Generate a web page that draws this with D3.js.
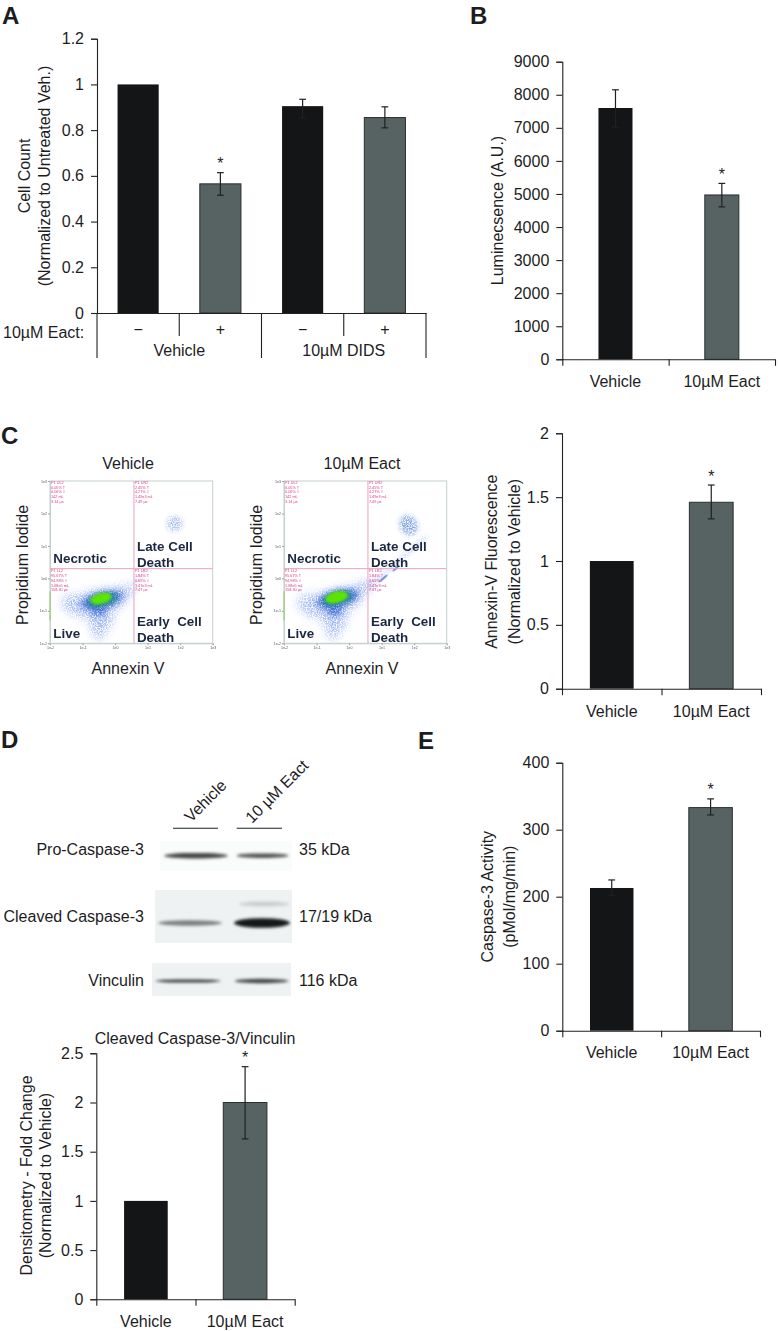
<!DOCTYPE html>
<html><head><meta charset="utf-8">
<script src="https://cdn.jsdelivr.net/npm/d3@7"></script>
<style>
html,body{margin:0;padding:0;background:#fff}
svg{display:block}
text{font-family:"Liberation Sans",Arial,sans-serif;fill:#1d1d1f}
</style></head><body><div id="c"></div>
<script>
// ---------- data ----------
const aGroups = ["Vehicle", "10µM DIDS"];
const aCategories = ["−", "+", "−", "+"];
const aValues = [1, 0.565, 0.905, 0.855];
const aErrHigh = [null, 0.614, 0.935, 0.902];
const aErrLow = [null, 0.515, 0.853, 0.81];
const aStars = [false, true, false, false];
const aTicks = [0, 0.2, 0.4, 0.6, 0.8, 1, 1.2];

const xCategories = ["Vehicle", "10µM Eact"];

const bValues = [7600, 4970];
const bErrHigh = [8150, 5320];
const bErrLow = [7020, 4610];
const bTicks = [0, 1000, 2000, 3000, 4000, 5000, 6000, 7000, 8000, 9000];

const cValues = [1, 1.46];
const cErrHigh = [null, 1.595];
const cErrLow = [null, 1.33];
const cTicks = [0, 0.5, 1, 1.5, 2];

const dValues = [1, 2];
const dErrHigh = [null, 2.364];
const dErrLow = [null, 1.63];
const dTicks = [0, 0.5, 1, 1.5, 2, 2.5];

const eValues = [213, 333];
const eErrHigh = [225, 346];
const eErrLow = [202, 322];
const eTicks = [0, 100, 200, 300, 400];

// flow cytometry density blobs: x decade, y decade, x radius, y radius, tilt
const flowDecades = [0, 1, 2, 3, 4, 5];
const flowDecadeLabels = ["1e-2", "1e-1", "1e0", "1e1", "1e2", "1e3"];
const flowCloudVehicle = [[1.45,1.25,0.95,0.4,-12],[1.55,0.85,0.4,0.5,0],[2.2,1.55,0.45,0.2,-25],[0.75,1.25,0.4,0.25,0],[1.5,0.45,0.2,0.35,0]];
const flowMidVehicle = [[1.6,1.33,0.68,0.24,-14],[1.5,1.05,0.24,0.22,0]];
const flowCoreVehicle = [[1.57,1.38,0.33,0.16,-14]];
const flowLateVehicle = [[3.83,3.69,0.25,0.24,-30]];
const flowStreakVehicle = [[2.55,1.8,3.3,2.55]];
const flowCloudEact = [[1.5,1.25,0.95,0.4,-14],[1.55,0.85,0.4,0.5,0],[2.3,1.65,0.5,0.2,-28],[0.8,1.25,0.4,0.25,0],[1.5,0.45,0.2,0.35,0]];
const flowMidEact = [[1.65,1.38,0.68,0.25,-14],[1.55,1.05,0.24,0.22,0]];
const flowCoreEact = [[1.62,1.42,0.35,0.17,-14]];
const flowLateEact = [[3.83,3.64,0.27,0.32,-30]];
const flowStreakEact = [[2.55,1.7,4.4,3.3]];
const flowDarkEact = [[3.43,2.3,0.12,0.04,-40],[3.05,2.0,0.18,0.04,-40]];
const quadStats = [
 ["P1 UL2","0.05% T","0.06% #","142 mL","3.14 µs"],
 ["P1 UR2","2.45% T","4.27% #","1.49e3 mL","7.49 µs"],
 ["P1 LL2","95.67% T","94.98% #","1.68e5 mL","158.30 µs"],
 ["P1 LR2","1.84% T","0.65% #","1.47e3 mL","7.47 µs"]];

// western blot rows and lanes
const blotRows = ["Pro-Caspase-3", "Cleaved Caspase-3", "Vinculin"];
const blotSizes = ["35 kDa", "17/19 kDa", "116 kDa"];
const blotLanes = ["Vehicle", "10 µM Eact"];
const blotDarkness = [[0.8, 0.75], [0.55, 1], [0.85, 0.8]];
const blotThickness = [[2.8, 2.3], [2.8, 4.8], [1.6, 2.2]];
const blotFaint = [[null, 0.2]];

// ---------- drawing ----------
const W = 778, H = 1331;
const svg = d3.select("#c").append("svg").attr("width", W).attr("height", H).attr("viewBox", [0,0,W,H]);
svg.append("rect").attr("width", W).attr("height", H).attr("fill", "#fff");
const defs = svg.append("defs");
const INK = "#1f2122", BLACK = "#131516", GREY = "#566362";

function blurF(id, s){ defs.append("filter").attr("id", id).attr("x","-40%").attr("y","-150%").attr("width","180%").attr("height","400%")
  .attr("color-interpolation-filters","sRGB").append("feGaussianBlur").attr("stdDeviation", s); }
blurF("b03",0.35); blurF("b1",1.3); blurF("b15",1.5); blurF("b2",2.4); blurF("b4",4);
function speck(id, s, slope, icpt, seed){
  const f = defs.append("filter").attr("id", id).attr("x","-30%").attr("y","-30%").attr("width","160%").attr("height","160%").attr("color-interpolation-filters","sRGB");
  f.append("feGaussianBlur").attr("in","SourceGraphic").attr("stdDeviation",s).attr("result","bl");
  f.append("feTurbulence").attr("type","fractalNoise").attr("baseFrequency",0.8).attr("numOctaves",2).attr("seed",seed).attr("result","t");
  f.append("feColorMatrix").attr("in","t").attr("type","matrix")
    .attr("values",`0 0 0 0 0  0 0 0 0 0  0 0 0 0 0  ${slope} 0 0 0 ${icpt}`).attr("result","n");
  f.append("feComposite").attr("in","bl").attr("in2","n").attr("operator","in").attr("result","c");
  f.append("feGaussianBlur").attr("in","c").attr("stdDeviation",0.55);
}
speck("sp1",5,3.2,-1,3); speck("sp2",3,3,-0.7,8); speck("sp3",2.5,3,-0.9,5);

function barChart(o){
  const g = svg.append("g");
  const y = d3.scaleLinear().domain(o.domain).range([o.y0, o.y1]);
  const n = o.values.length;
  const band = d3.scaleBand().domain(d3.range(n)).range([o.x0, o.x1]).paddingInner(o.pad).paddingOuter(o.pad/2);
  const xl = d3.scaleLinear().domain([0,n]).range([o.x0,o.x1]);
  g.selectAll("rect.bar").data(o.values).join("rect").attr("class","bar")
    .attr("x",(d,i)=>band(i)).attr("width",band.bandwidth())
    .attr("y",d=>y(d)).attr("height",d=>o.y0-y(d))
    .attr("fill",(d,i)=>o.colors[i]).attr("stroke",(d,i)=>o.colors[i]===GREY?"#2a2e2e":"none").attr("stroke-width",1);
  const ya = d3.axisLeft(y).tickValues(o.ticks).tickSize(6).tickPadding(7).tickFormat(d=>String(d));
  const ag = g.append("g").attr("transform",`translate(${o.x0},0)`).call(ya);
  ag.selectAll("line,path").attr("stroke",INK).attr("stroke-width",1.1);
  ag.selectAll("text").attr("font-size",16).attr("fill",INK);
  const xa = d3.axisBottom(xl).tickValues(d3.range(n+1)).tickSize(o.xTick===undefined?6.5:0).tickSizeOuter(0).tickFormat("");
  const xg = g.append("g").attr("transform",`translate(0,${o.y0})`).call(xa);
  xg.selectAll("line,path").attr("stroke",INK).attr("stroke-width",1.1);
  const cx = i=>band(i)+band.bandwidth()/2;
  const eb = g.append("g").attr("stroke",INK).attr("stroke-width",1.2);
  o.values.forEach((v,i)=>{
    if(o.hi[i]==null) return;
    eb.append("line").attr("x1",cx(i)).attr("x2",cx(i)).attr("y1",y(o.hi[i])).attr("y2",y(o.lo[i]));
    [o.hi[i],o.lo[i]].forEach(e=>eb.append("line").attr("x1",cx(i)-3.4).attr("x2",cx(i)+3.4).attr("y1",y(e)).attr("y2",y(e)));
  });
  o.stars.forEach((s,i)=>{ if(s) g.append("text").attr("x",cx(i)).attr("y",y(o.hi[i])-o.starGap).attr("text-anchor","middle").attr("font-size",16).text("*"); });
  o.title.forEach((t,i)=>g.append("text").attr("transform",`translate(${o.titleX[i]},${o.titleY}) rotate(-90)`)
     .attr("text-anchor","middle").attr("dy","0.36em").attr("font-size",16).text(t));
  if(o.cats) o.cats.forEach((t,i)=>g.append("text").attr("x",cx(i)).attr("y",o.catY).attr("dy","0.36em")
     .attr("text-anchor","middle").attr("font-size",16).text(t));
  return {g,y,band,xl,cx};
}
const two=[BLACK,GREY];

// Panel A
const A = barChart({x0:97,x1:426,y0:313,y1:38.7,domain:[0,1.2],pad:0.5,values:aValues,hi:aErrHigh,lo:aErrLow,stars:aStars,starGap:3.5,
  ticks:aTicks,colors:[BLACK,GREY,BLACK,GREY],xTick:0,title:["Cell Count","(Normalized to Untreated Veh.)"],titleX:[24,44.7],titleY:176});
[0,2,4].forEach(i=>A.g.append("line").attr("x1",A.xl(i)).attr("x2",A.xl(i)).attr("y1",313).attr("y2",358).attr("stroke",INK).attr("stroke-width",1.1));
[1,3].forEach(i=>A.g.append("line").attr("x1",A.xl(i)).attr("x2",A.xl(i)).attr("y1",313).attr("y2",336).attr("stroke",INK).attr("stroke-width",1.1));
A.g.selectAll("text.sign").data(aCategories).join("text").attr("class","sign").attr("x",(d,i)=>A.cx(i)).attr("y",329).attr("dy","0.36em").attr("text-anchor","middle").attr("font-size",16).text(d=>d);
aGroups.forEach((t,i)=>A.g.append("text").attr("x",A.xl(2*i+1)).attr("y",350.7).attr("dy","0.36em").attr("text-anchor","middle").attr("font-size",16).text(t));
A.g.append("text").attr("x",3).attr("y",332.5).attr("dy","0.36em").attr("font-size",16).text("10µM Eact:");

// Panel B
barChart({x0:562.3,x1:775,y0:359.3,y1:61.7,domain:[0,9000],pad:0.68,values:bValues,hi:bErrHigh,lo:bErrLow,stars:[false,true],starGap:3.5,
  ticks:bTicks,colors:two,title:["Luminecsence (A.U.)"],titleX:[497.7],titleY:210.5,cats:xCategories,catY:381.7});
// Panel C bars
barChart({x0:562,x1:761,y0:688.7,y1:433.3,domain:[0,2],pad:0.56,values:cValues,hi:cErrHigh,lo:cErrLow,stars:[false,true],starGap:3.5,
  ticks:cTicks,colors:two,title:["Annexin-V Fluorescence","(Normalized to Vehicle)"],titleX:[491.7,514],titleY:561.7,cats:xCategories,catY:711});
// Panel D bars
const D = barChart({x0:96.3,x1:294.7,y0:1299.3,y1:1053.3,domain:[0,2.5],pad:0.56,values:dValues,hi:dErrHigh,lo:dErrLow,stars:[false,true],starGap:3.5,
  ticks:dTicks,colors:two,title:["Densitometry - Fold Change","(Normalized to Vehicle)"],titleX:[26,45],titleY:1175.5,cats:xCategories,catY:1321.7});
D.g.append("text").attr("x",195).attr("y",1038.3).attr("dy","0.36em").attr("text-anchor","middle").attr("font-size",16).text("Cleaved Caspase-3/Vinculin");
// Panel E
barChart({x0:562.3,x1:760,y0:1030.7,y1:762.7,domain:[0,400],pad:0.56,values:eValues,hi:eErrHigh,lo:eErrLow,stars:[false,true],starGap:3.5,
  ticks:eTicks,colors:two,title:["Caspase-3 Activity","(pMol/mg/min)"],titleX:[487,509],titleY:896.7,cats:xCategories,catY:1052.7});

// Panel letters
[["A",2,24],["B",470,24],["C",1,444],["D",1,748],["E",418,749]].forEach(([t,x,y])=>
  svg.append("text").attr("x",x).attr("y",y).attr("font-size",24).attr("font-weight",700).attr("fill","#111").text(t));

// Flow plots
function flow(o){
  const g = svg.append("g");
  const x = d3.scaleLinear().domain([0,5]).range([o.x0,o.x0+162.7]);
  const y = d3.scaleLinear().domain([0,5]).range([643.3,481]);
  const clipId="clip"+o.x0;
  defs.append("clipPath").attr("id",clipId).append("rect").attr("x",o.x0).attr("y",481).attr("width",162.7).attr("height",162.3);
  const ell=(gg,arr,fill,op)=>gg.selectAll("ellipse").data(arr).join("ellipse")
    .attr("cx",0).attr("cy",0)
    .attr("rx",d=>x(d[2])-x(0)).attr("ry",d=>y(0)-y(d[3]))
    .attr("transform",d=>`translate(${x(d[0])},${y(d[1])}) rotate(${d[4]})`)
    .attr("fill",fill).attr("opacity",op);
  const plot=g.append("g").attr("clip-path",`url(#${clipId})`);
  ell(plot.append("g").attr("filter","url(#sp1)"),o.cloud,"#9db6f2",1);
  ell(plot.append("g").attr("filter","url(#sp2)"),o.mid,"#3f68d8",1);
  ell(plot.append("g").attr("filter","url(#b2)"),o.mid.slice(0,1).map(d=>[d[0],d[1],d[2]*0.72,d[3]*0.85,d[4]]),"#1f8a8a",0.8);
  ell(plot.append("g").attr("filter","url(#b1)"),o.core,"#5ae400",1);
  ell(plot.append("g").attr("filter","url(#sp3)"),o.late,o.lateColor,1);
  plot.append("g").attr("filter","url(#sp3)").selectAll("line").data(o.streak).join("line")
    .attr("x1",d=>x(d[0])).attr("y1",d=>y(d[1])).attr("x2",d=>x(d[2])).attr("y2",d=>y(d[3]))
    .attr("stroke",o.streakColor).attr("stroke-width",o.streakW);
  if(o.dark) ell(plot.append("g").attr("filter","url(#b03)"),o.dark,"#4a78d8",0.7);
  const fr=g.append("g").attr("filter","url(#b03)");
  fr.append("rect").attr("x",o.x0).attr("y",481).attr("width",162.7).attr("height",162.3).attr("fill","none").attr("stroke","#c4d0cc").attr("stroke-width",1);
  const ax=fr.append("g").attr("transform","translate(0,643.3)").call(d3.axisBottom(x).tickValues(flowDecades).tickSize(2).tickPadding(1).tickFormat((d,i)=>flowDecadeLabels[i]));
  const ay=fr.append("g").attr("transform",`translate(${o.x0},0)`).call(d3.axisLeft(y).tickValues(flowDecades).tickSize(2).tickPadding(1).tickFormat((d,i)=>flowDecadeLabels[i]));
  [ax,ay].forEach(a=>{a.select("path").attr("stroke","#c4d0cc");a.selectAll("line").attr("stroke","#9aa5a0");a.selectAll("text").attr("font-size",3.6).style("fill","#556");});
  fr.append("line").attr("x1",o.x0).attr("x2",o.x0).attr("y1",y(1.6)).attr("y2",y(0.7)).attr("stroke","#86d060").attr("stroke-width",1);
  const gate=g.append("g").attr("stroke","#eaa2bf").attr("stroke-width",1);
  gate.append("line").attr("x1",x(o.gx)).attr("x2",x(o.gx)).attr("y1",481).attr("y2",643.3);
  gate.append("line").attr("x1",o.x0).attr("x2",o.x0+162.7).attr("y1",y(o.gy)).attr("y2",y(o.gy));
  const st=g.append("g").attr("filter","url(#b03)");
  [[o.x0+1,484],[x(o.gx)+1,484],[o.x0+1,572.4],[x(o.gx)+1,572.4]].forEach((p,i)=>{
    o.stats[i].forEach((t,j)=>st.append("text").attr("x",p[0]).attr("y",p[1]+j*4.7).attr("font-size",3.8).style("fill","#d63a80").text(t));
  });
  const lab=g.append("g").attr("filter","url(#b03)");
  [["Necrotic",o.x0+3.3,558.3],["Late Cell",x(o.gx)+3,546],["Death",x(o.gx)+3,561.7],["Early  Cell",x(o.gx)+3,621],["Death",x(o.gx)+3,636.7],["Live",o.x0+3.3,633.3]]
   .forEach(([t,px,py])=>lab.append("text").attr("x",px).attr("y",py).attr("dy","0.36em").attr("font-size",13.4).attr("font-weight",700).style("fill","#1b2740").style("white-space","pre").text(t));
  g.append("text").attr("x",o.x0+78).attr("y",463.3).attr("dy","0.36em").attr("text-anchor","middle").attr("font-size",16).text(o.title);
  g.append("text").attr("x",o.x0+78).attr("y",668.3).attr("dy","0.36em").attr("text-anchor","middle").attr("font-size",16).text("Annexin V");
  g.append("text").attr("transform",`translate(${o.x0-27.3},565) rotate(-90)`).attr("dy","0.36em").attr("text-anchor","middle").attr("font-size",16).text("Propidium Iodide");
}
flow({x0:50,gx:2.58,gy:2.3,title:xCategories[0],cloud:flowCloudVehicle,mid:flowMidVehicle,core:flowCoreVehicle,late:flowLateVehicle,lateColor:"#a9c0ee",streak:flowStreakVehicle,streakColor:"#c5d4f4",streakW:2,stats:quadStats});
flow({x0:284,gx:2.58,gy:2.3,title:xCategories[1],cloud:flowCloudEact,mid:flowMidEact,core:flowCoreEact,late:flowLateEact,lateColor:"#7ea2e6",streak:flowStreakEact,streakColor:"#9db8ec",streakW:2.5,dark:flowDarkEact,stats:quadStats});

// Western blot
const blot=svg.append("g");
const rowY=d3.scaleOrdinal().domain(blotRows).range([855.7,923,981]);
const gx=d3.scaleSequential(d3.interpolateRgb("#fbfcfc","#151819")).domain([0,1]);
[[blotRows[0],"#fafbfb",160,292,841,871],[blotRows[1],"#eff2f2",155,292,890,943],[blotRows[2],"#eff2f2",152,291,963,996]].forEach(([r,c,a,b,t,u])=>
  blot.append("rect").attr("x",a).attr("y",t).attr("width",b-a).attr("height",u-t).attr("fill",c).attr("filter","url(#b03)"));
const laneHalf=[[32,26],[32,28],[33,27]];
const laneMid=[[196,262.5],[190,262],[188,261.5]];
blotRows.forEach((r,ri)=>blotLanes.forEach((l,li)=>{
  blot.append("ellipse").attr("cx",laneMid[ri][li]).attr("cy",rowY(r)).attr("rx",laneHalf[ri][li]).attr("ry",blotThickness[ri][li])
    .attr("fill",gx(blotDarkness[ri][li])).attr("filter","url(#b15)");
}));
blot.append("ellipse").attr("cx",264).attr("cy",904).attr("rx",25).attr("ry",2.6).attr("fill",gx(blotFaint[0][1])).attr("filter","url(#b15)");
blotRows.forEach((r,i)=>{
  const yy=[849,916.7,980.7][i];
  blot.append("text").attr("x",144).attr("y",yy).attr("dy","0.36em").attr("text-anchor","end").attr("font-size",16).text(r);
  blot.append("text").attr("x",299).attr("y",yy).attr("dy","0.36em").attr("font-size",16).text(blotSizes[i]);
});
blotLanes.forEach((l,i)=>{
  const a=[173,236.7][i], b=[218,282][i];
  blot.append("line").attr("x1",a).attr("x2",b).attr("y1",828.3).attr("y2",828.3).attr("stroke",INK).attr("stroke-width",1.1);
  blot.append("text").attr("transform",`translate(${[191,252][i]},${[823,824][i]}) rotate(-45)`).attr("font-size",16).text(l);
});
</script></body></html>
